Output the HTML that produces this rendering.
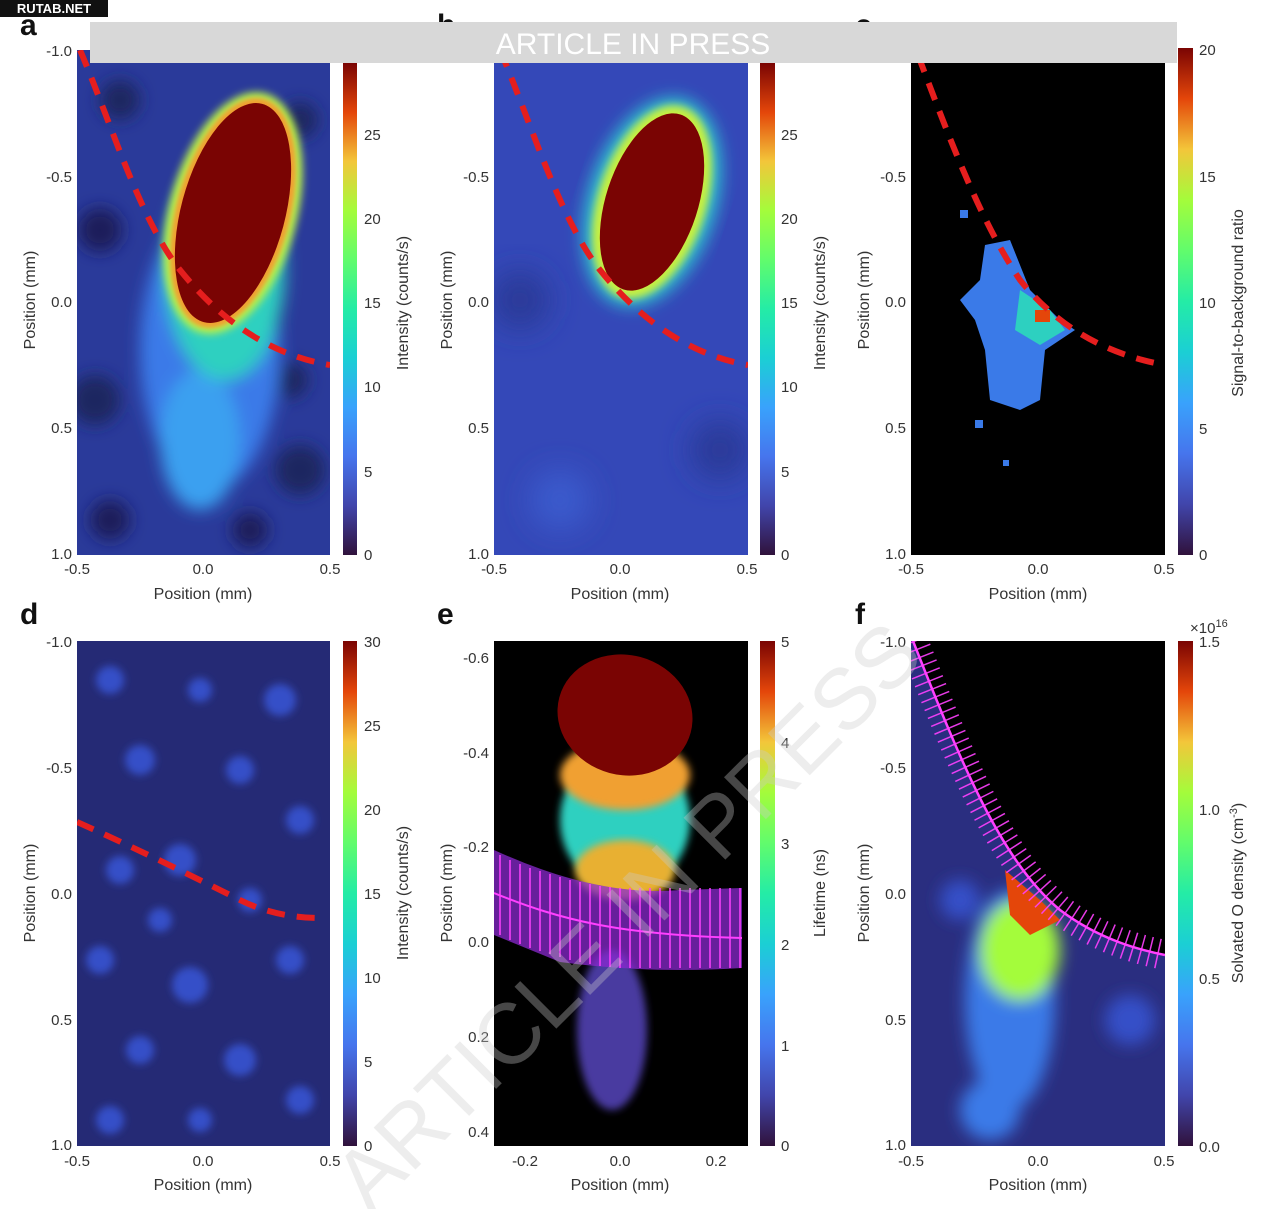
<!DOCTYPE html>
<html><head><meta charset="utf-8"><style>
body{margin:0;background:#fff;width:1280px;height:1209px;overflow:hidden}
svg{display:block}
text{font-family:"Liberation Sans",sans-serif;fill:#333}
</style></head><body>
<svg width="1280" height="1209" viewBox="0 0 1280 1209" xmlns="http://www.w3.org/2000/svg">
<defs>
<linearGradient id="turbo" x1="0" y1="1" x2="0" y2="0">
<stop offset="0" stop-color="#30123b"/><stop offset="0.1" stop-color="#4145ab"/>
<stop offset="0.2" stop-color="#4675ed"/><stop offset="0.3" stop-color="#39a2fc"/>
<stop offset="0.4" stop-color="#1bcfd4"/><stop offset="0.5" stop-color="#24eca6"/>
<stop offset="0.6" stop-color="#61fc6c"/><stop offset="0.7" stop-color="#a4fc3b"/>
<stop offset="0.8" stop-color="#f3c63a"/><stop offset="0.9" stop-color="#e4460a"/>
<stop offset="1" stop-color="#7a0403"/></linearGradient>
<filter id="b8"><feGaussianBlur stdDeviation="8"/></filter>
<filter id="b4"><feGaussianBlur stdDeviation="4"/></filter>
<filter id="b2"><feGaussianBlur stdDeviation="2"/></filter>
<filter id="b14"><feGaussianBlur stdDeviation="14"/></filter>
<clipPath id="ca"><rect x="77" y="50" width="253" height="505"/></clipPath>
<clipPath id="cb"><rect x="494" y="50" width="254" height="505"/></clipPath>
<clipPath id="cc"><rect x="911" y="50" width="254" height="505"/></clipPath>
<clipPath id="cd"><rect x="77" y="641" width="253" height="505"/></clipPath>
<clipPath id="ce"><rect x="494" y="641" width="254" height="505"/></clipPath>
<clipPath id="cf"><rect x="911" y="641" width="254" height="505"/></clipPath>
</defs>

<!-- Panel a -->
<g clip-path="url(#ca)">
<rect x="77" y="50" width="253" height="505" fill="#2a3a9a"/>
<g filter="url(#b8)">
<circle cx="100" cy="230" r="22" fill="#1a1f5a"/><circle cx="95" cy="400" r="25" fill="#1e2560"/>
<circle cx="300" cy="470" r="25" fill="#1e2560"/><circle cx="110" cy="520" r="20" fill="#1a1f5a"/>
<circle cx="290" cy="380" r="18" fill="#1e2560"/><circle cx="250" cy="530" r="18" fill="#1a1f5a"/>
<circle cx="120" cy="100" r="20" fill="#1e2560"/><circle cx="300" cy="120" r="18" fill="#1e2560"/>
<ellipse cx="210" cy="350" rx="70" ry="140" fill="#3a7ae8"/>
<ellipse cx="200" cy="440" rx="40" ry="70" fill="#3aa0f0"/>
<ellipse cx="225" cy="270" rx="60" ry="110" fill="#2dd0c0"/>
</g>
<ellipse cx="233" cy="213" rx="64" ry="124" transform="rotate(15 233 213)" fill="#b8f048" filter="url(#b4)"/>
<ellipse cx="233" cy="213" rx="57" ry="118" transform="rotate(15 233 213)" fill="#f0a030" filter="url(#b2)"/>
<ellipse cx="233" cy="213" rx="52" ry="113" transform="rotate(15 233 213)" fill="#7a0403"/>
<path d="M80,50 C110,120 140,220 180,270 C220,320 270,355 330,365" fill="none" stroke="#e51e1e" stroke-width="6" stroke-dasharray="18,12"/>
</g>
<rect x="343" y="63" width="14" height="492" fill="url(#turbo)"/>

<!-- Panel b -->
<g clip-path="url(#cb)">
<rect x="494" y="50" width="254" height="505" fill="#3448b8"/>
<g filter="url(#b14)"><circle cx="520" cy="300" r="30" fill="#2a3a9a"/><circle cx="720" cy="450" r="30" fill="#2a3a9a"/><circle cx="560" cy="500" r="30" fill="#3a5acc"/></g>
<ellipse cx="652" cy="202" rx="64" ry="108" transform="rotate(18 652 202)" fill="#2dc0d0" filter="url(#b8)"/>
<ellipse cx="652" cy="202" rx="54" ry="100" transform="rotate(18 652 202)" fill="#c8f040" filter="url(#b4)"/>
<ellipse cx="652" cy="202" rx="46" ry="92" transform="rotate(18 652 202)" fill="#7a0403"/>
<path d="M500,50 C530,120 560,220 600,270 C640,320 690,355 748,365" fill="none" stroke="#e51e1e" stroke-width="6" stroke-dasharray="18,12"/>
</g>
<rect x="760" y="63" width="15" height="492" fill="url(#turbo)"/>

<!-- Panel c -->
<g clip-path="url(#cc)">
<rect x="911" y="50" width="254" height="505" fill="#000"/>
<path d="M985,245 L1010,240 1030,290 1060,320 1075,330 1045,350 1040,400 1020,410 990,400 985,350 975,320 960,300 980,280Z" fill="#3a7ae8"/>
<path d="M1020,290 L1050,310 1065,330 1040,345 1015,330Z" fill="#2dd0c0"/>
<rect x="1035" y="310" width="15" height="12" fill="#e4460a"/>
<rect x="960" y="210" width="8" height="8" fill="#3a7ae8"/><rect x="975" y="420" width="8" height="8" fill="#3a7ae8"/><rect x="1003" y="460" width="6" height="6" fill="#3a7ae8"/>
<path d="M918,55 C950,140 980,220 1020,280 C1060,330 1110,355 1165,365" fill="none" stroke="#e51e1e" stroke-width="6" stroke-dasharray="18,12"/>
</g>
<rect x="1178" y="48" width="15" height="507" fill="url(#turbo)"/>

<!-- Panel d -->
<g clip-path="url(#cd)">
<rect x="77" y="641" width="253" height="505" fill="#252a75"/>
<g filter="url(#b4)" fill="#3550c8">
<circle cx="110" cy="680" r="14"/><circle cx="200" cy="690" r="12"/><circle cx="280" cy="700" r="16"/>
<circle cx="140" cy="760" r="15"/><circle cx="240" cy="770" r="14"/><circle cx="300" cy="820" r="14"/>
<circle cx="120" cy="870" r="14"/><circle cx="180" cy="860" r="16"/><circle cx="250" cy="900" r="12"/>
<circle cx="100" cy="960" r="14"/><circle cx="190" cy="985" r="18"/><circle cx="290" cy="960" r="14"/>
<circle cx="140" cy="1050" r="14"/><circle cx="240" cy="1060" r="16"/><circle cx="300" cy="1100" r="14"/>
<circle cx="110" cy="1120" r="14"/><circle cx="200" cy="1120" r="12"/><circle cx="160" cy="920" r="12"/>
</g>
<path d="M77,822 C140,850 200,880 240,900 C270,915 300,918 320,918" fill="none" stroke="#e51e1e" stroke-width="6" stroke-dasharray="18,12"/>
</g>
<rect x="343" y="641" width="14" height="505" fill="url(#turbo)"/>

<!-- Panel e -->
<g clip-path="url(#ce)">
<rect x="494" y="641" width="254" height="505" fill="#000"/>
<ellipse cx="612" cy="1030" rx="35" ry="80" fill="#4a3aa0" filter="url(#b4)"/>
<ellipse cx="625" cy="820" rx="65" ry="70" fill="#2dd0c0" filter="url(#b4)"/>
<ellipse cx="625" cy="870" rx="50" ry="30" fill="#e8b030" filter="url(#b4)"/>
<ellipse cx="625" cy="775" rx="65" ry="35" fill="#f0a030" filter="url(#b4)"/>
<ellipse cx="625" cy="715" rx="68" ry="60" transform="rotate(15 625 715)" fill="#7a0403"/>
<path d="M494,850 C560,880 620,895 680,890 L742,888 L742,968 C680,972 620,970 560,962 L494,935Z" fill="#8a2ad0" opacity="0.75"/>
<path d="M494,893 C560,920 620,935 742,938" fill="none" stroke="#ff40ff" stroke-width="2"/>
<g stroke="#ff40ff" stroke-width="1.5">
<path d="M500,855v80M510,860v80M520,864v80M530,868v80M540,871v80M550,874v80M560,877v80M570,880v80M580,882v80M590,884v80M600,886v80M610,887v80M620,888v80M630,888v80M640,888v80M650,888v80M660,888v80M670,888v80M680,888v80M690,888v80M700,888v80M710,888v80M720,888v80M730,888v80M740,888v80"/>
</g>
</g>
<rect x="760" y="641" width="15" height="505" fill="url(#turbo)"/>

<!-- Panel f -->
<g clip-path="url(#cf)">
<rect x="911" y="641" width="254" height="505" fill="#2a2e80"/>
<path d="M913,641 C960,760 1000,860 1060,910 C1100,940 1140,950 1165,955 L1165,641Z" fill="#000"/>
<g filter="url(#b8)">
<ellipse cx="1010" cy="1000" rx="45" ry="110" fill="#3a7ae8"/>
<ellipse cx="1020" cy="950" rx="40" ry="50" fill="#a4fc3b"/>
<ellipse cx="990" cy="1110" rx="30" ry="30" fill="#3a7ae8"/>
<circle cx="1130" cy="1020" r="25" fill="#3550c8"/>
<circle cx="960" cy="900" r="20" fill="#3550c8"/>
</g>
<path d="M1005,870 L1040,900 1060,920 1030,935 1010,915Z" fill="#e4460a"/>
<path d="M913,641 C960,760 1000,860 1060,910 C1100,940 1140,950 1165,955" fill="none" stroke="#ff40ff" stroke-width="2.5"/>
<path d="M913,641 C960,760 1000,860 1060,910 C1100,940 1140,950 1165,955" fill="none" stroke="#ff40ff" stroke-width="30" stroke-dasharray="1.5,7" opacity="0.9"/>
</g>
<rect x="1178" y="641" width="15" height="505" fill="url(#turbo)"/>

<!-- Axis tick labels -->
<g font-size="15" text-anchor="end">
<text x="72" y="56">-1.0</text><text x="72" y="182">-0.5</text><text x="72" y="307">0.0</text><text x="72" y="433">0.5</text><text x="72" y="559">1.0</text>
<text x="489" y="182">-0.5</text><text x="489" y="307">0.0</text><text x="489" y="433">0.5</text><text x="489" y="559">1.0</text>
<text x="906" y="182">-0.5</text><text x="906" y="307">0.0</text><text x="906" y="433">0.5</text><text x="906" y="559">1.0</text>
<text x="72" y="647">-1.0</text><text x="72" y="773">-0.5</text><text x="72" y="899">0.0</text><text x="72" y="1025">0.5</text><text x="72" y="1150">1.0</text>
<text x="489" y="663">-0.6</text><text x="489" y="758">-0.4</text><text x="489" y="852">-0.2</text><text x="489" y="947">0.0</text><text x="489" y="1042">0.2</text><text x="489" y="1137">0.4</text>
<text x="906" y="647">-1.0</text><text x="906" y="773">-0.5</text><text x="906" y="899">0.0</text><text x="906" y="1025">0.5</text><text x="906" y="1150">1.0</text>
</g>
<g font-size="15" text-anchor="middle">
<text x="77" y="574">-0.5</text><text x="203" y="574">0.0</text><text x="330" y="574">0.5</text>
<text x="494" y="574">-0.5</text><text x="620" y="574">0.0</text><text x="747" y="574">0.5</text>
<text x="911" y="574">-0.5</text><text x="1038" y="574">0.0</text><text x="1164" y="574">0.5</text>
<text x="77" y="1166">-0.5</text><text x="203" y="1166">0.0</text><text x="330" y="1166">0.5</text>
<text x="525" y="1166">-0.2</text><text x="620" y="1166">0.0</text><text x="716" y="1166">0.2</text>
<text x="911" y="1166">-0.5</text><text x="1038" y="1166">0.0</text><text x="1164" y="1166">0.5</text>
</g>
<g font-size="16" text-anchor="middle">
<text x="203" y="599">Position (mm)</text><text x="620" y="599">Position (mm)</text><text x="1038" y="599">Position (mm)</text>
<text x="203" y="1190">Position (mm)</text><text x="620" y="1190">Position (mm)</text><text x="1038" y="1190">Position (mm)</text>
<text transform="translate(35,300) rotate(-90)">Position (mm)</text>
<text transform="translate(452,300) rotate(-90)">Position (mm)</text>
<text transform="translate(869,300) rotate(-90)">Position (mm)</text>
<text transform="translate(35,893) rotate(-90)">Position (mm)</text>
<text transform="translate(452,893) rotate(-90)">Position (mm)</text>
<text transform="translate(869,893) rotate(-90)">Position (mm)</text>
<text transform="translate(408,303) rotate(-90)">Intensity (counts/s)</text>
<text transform="translate(825,303) rotate(-90)">Intensity (counts/s)</text>
<text transform="translate(1243,303) rotate(-90)">Signal-to-background ratio</text>
<text transform="translate(408,893) rotate(-90)">Intensity (counts/s)</text>
<text transform="translate(825,893) rotate(-90)">Lifetime (ns)</text>
<text transform="translate(1243,893) rotate(-90)">Solvated O density (cm<tspan font-size="11" dy="-6">-3</tspan><tspan dy="6">)</tspan></text>
</g>
<!-- colorbar ticks -->
<g font-size="15">
<text x="364" y="140">25</text><text x="364" y="224">20</text><text x="364" y="308">15</text><text x="364" y="392">10</text><text x="364" y="477">5</text><text x="364" y="560">0</text>
<text x="781" y="140">25</text><text x="781" y="224">20</text><text x="781" y="308">15</text><text x="781" y="392">10</text><text x="781" y="477">5</text><text x="781" y="560">0</text>
<text x="1199" y="55">20</text><text x="1199" y="182">15</text><text x="1199" y="308">10</text><text x="1199" y="434">5</text><text x="1199" y="560">0</text>
<text x="364" y="647">30</text><text x="364" y="731">25</text><text x="364" y="815">20</text><text x="364" y="899">15</text><text x="364" y="983">10</text><text x="364" y="1067">5</text><text x="364" y="1151">0</text>
<text x="781" y="647">5</text><text x="781" y="748">4</text><text x="781" y="849">3</text><text x="781" y="950">2</text><text x="781" y="1051">1</text><text x="781" y="1151">0</text>
<text x="1199" y="647">1.5</text><text x="1199" y="815">1.0</text><text x="1199" y="984">0.5</text><text x="1199" y="1152">0.0</text>
<text x="1190" y="633">×10<tspan font-size="11" dy="-6">16</tspan></text>
</g>
<!-- panel letters -->
<g font-size="30" font-weight="bold">
<text x="20" y="35" style="fill:#111">a</text><text x="437" y="35" style="fill:#111">b</text><text x="855" y="35" style="fill:#111">c</text>
<text x="20" y="624" style="fill:#111">d</text><text x="437" y="624" style="fill:#111">e</text><text x="855" y="624" style="fill:#111">f</text>
</g>
<!-- banner -->
<rect x="90" y="22" width="1087" height="41" fill="#d8d8d8"/>
<text x="633" y="54" font-size="30" text-anchor="middle" style="fill:#fff">ARTICLE IN PRESS</text>
<rect x="0" y="0" width="108" height="17" fill="#111"/>
<text x="54" y="13" font-size="13" font-weight="bold" text-anchor="middle" style="fill:#fff">RUTAB.NET</text>
<!-- watermark -->
<text transform="translate(370,1215) rotate(-45)" font-size="86" style="fill:#ccc;opacity:0.35">ARTICLE IN PRESS</text>
</svg>
</body></html>
